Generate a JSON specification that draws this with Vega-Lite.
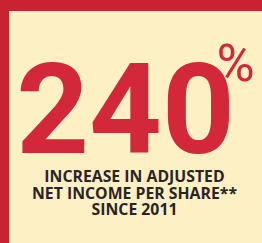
{
  "$schema": "https://vega.github.io/schema/vega-lite/v6.json",
  "width": 253,
  "height": 232,
  "autosize": {"type": "none"},
  "padding": {"left": 9, "top": 11, "right": 0, "bottom": 0},
  "background": "#c92231",
  "config": {"view": {"stroke": null, "fill": "#fdf0c4"}},
  "datasets": {
    "headline": [{"label": "240", "unit": "%"}],
    "caption": [
      {"line": 1, "label": "INCREASE IN ADJUSTED"},
      {"line": 2, "label": "NET INCOME PER SHARE**"},
      {"line": 3, "label": "SINCE 2011"}
    ]
  },
  "layer": [
    {
      "data": {"name": "headline"},
      "mark": {"type": "text", "font": "Roboto", "fontWeight": "bold", "fontSize": 127, "color": "#d2283a", "align": "center", "baseline": "alphabetic", "x": {"expr": "width/2 - 10"}, "y": {"expr": "height*0.614"}},
      "encoding": {"text": {"field": "label"}}
    },
    {
      "data": {"name": "headline"},
      "mark": {"type": "text", "font": "Roboto", "fontSize": 52, "color": "#d2283a", "align": "center", "baseline": "alphabetic", "x": {"expr": "width/2 + 100"}, "y": {"expr": "height*0.3"}},
      "encoding": {"text": {"field": "unit"}}
    },
    {
      "data": {"name": "caption"},
      "mark": {"type": "text", "font": "Open Sans", "fontWeight": "bold", "fontSize": 15.8, "color": "#2b2326", "align": "center", "baseline": "alphabetic", "x": {"expr": "width/2 - 1"}},
      "encoding": {
        "text": {"field": "label"},
        "y": {"field": "line", "type": "ordinal", "axis": null, "scale": {"type": "point", "range": [171, 204], "padding": 0}}
      }
    }
  ]
}
